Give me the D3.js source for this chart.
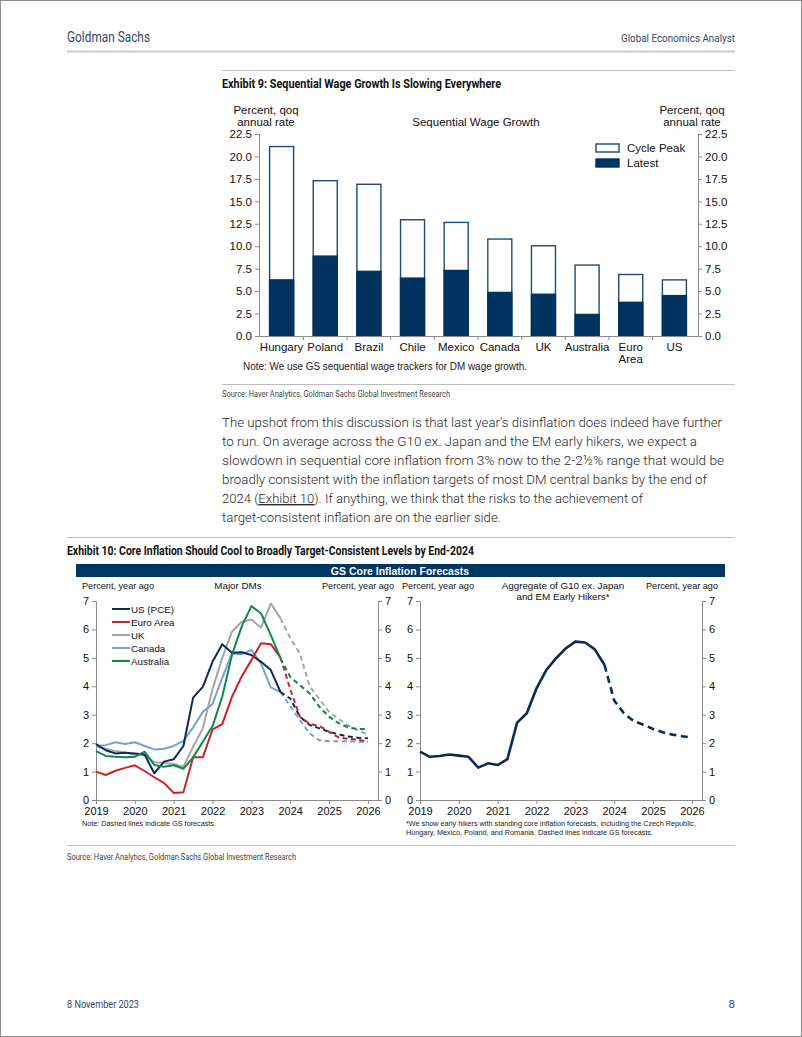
<!DOCTYPE html>
<html><head><meta charset="utf-8">
<script src="https://cdn.jsdelivr.net/npm/d3@7"></script>
<style>
html,body{margin:0;padding:0;background:#fff;}
svg{display:block;}
</style></head>
<body>
<svg id="page" width="802" height="1037"></svg>
<script>
// ---------- Exhibit 9 data ----------
const wageCountries = ["Hungary","Poland","Brazil","Chile","Mexico","Canada","UK","Australia","Euro Area","US"];
const wagePeak   = [21.1, 17.3, 16.9, 12.95, 12.65, 10.8, 10.05, 7.9, 6.85, 6.25];
const wageLatest = [6.25, 8.9, 7.2, 6.45, 7.3, 4.85, 4.65, 2.4, 3.75, 4.5];
const wageTicks  = [0, 2.5, 5, 7.5, 10, 12.5, 15, 17.5, 20, 22.5];

// ---------- Exhibit 10 data ----------
const actualPeriods = ["2019Q1","2019Q2","2019Q3","2019Q4","2020Q1","2020Q2","2020Q3","2020Q4","2021Q1","2021Q2","2021Q3","2021Q4","2022Q1","2022Q2","2022Q3","2022Q4","2023Q1","2023Q2","2023Q3","2023Q4"];
const forecastPeriods = ["2023Q4","2024Q1","2024Q2","2024Q3","2024Q4","2025Q1","2025Q2","2025Q3","2025Q4","2026Q1"];
const usActual   = [1.97,1.75,1.64,1.66,1.64,1.6,0.94,1.35,1.43,1.9,3.6,3.98,4.86,5.48,5.18,5.2,5.1,4.86,4.57,3.8];
const usFcst     = [3.8,3.57,2.93,2.64,2.52,2.4,2.31,2.23,2.19,2.17];
const euroActual = [1.0,0.88,1.03,1.13,1.22,1.02,0.8,0.6,0.25,0.27,1.5,1.5,2.48,2.67,3.63,4.34,4.92,5.51,5.48,5.01];
const euroFcst   = [5.01,3.9,2.93,2.68,2.6,2.4,2.2,2.15,2.12,2.05];
const ukActual   = [1.87,1.8,1.72,1.67,1.6,1.58,1.33,1.3,1.27,1.17,1.87,2.52,3.9,5.0,5.92,6.27,6.35,6.06,6.91,6.39];
const ukFcst     = [6.39,5.7,5.15,4.0,3.55,3.1,2.85,2.62,2.45,2.3];
const canActual  = [1.9,1.93,2.03,1.97,2.03,1.9,1.78,1.8,1.9,2.08,2.55,3.1,3.38,4.3,5.15,5.13,5.27,4.8,3.96,3.8];
const canFcst    = [3.8,3.3,2.81,2.34,2.1,2.07,2.07,2.07,2.05,2.05];
const ausActual  = [1.72,1.55,1.52,1.5,1.52,1.7,1.23,1.17,1.22,1.1,1.5,2.05,2.6,3.63,5.1,6.1,6.82,6.56,5.8,4.98];
const ausFcst    = [4.98,4.33,4.04,3.75,3.28,2.93,2.7,2.55,2.5,2.5];
const aggActual  = [1.7,1.52,1.55,1.6,1.56,1.52,1.14,1.29,1.23,1.44,2.72,3.05,3.93,4.57,4.98,5.33,5.57,5.54,5.3,4.75];
const aggFcst    = [4.75,3.5,3.05,2.78,2.65,2.5,2.38,2.3,2.24,2.2];
const seriesNames = ["US (PCE)","Euro Area","UK","Canada","Australia"];
const seriesColors = ["#0b2b57","#c8232f","#a5a5a5","#7a9fd2","#12874a"];
const yearTicks = [2019,2020,2021,2022,2023,2024,2025,2026];
const inflTicks = [0,1,2,3,4,5,6,7];

const paragraph = [
 "The upshot from this discussion is that last year\u2019s disinflation does indeed have further",
 "to run.  On average across the G10 ex. Japan and the EM early hikers, we expect a",
 "slowdown in sequential core inflation from 3% now to the 2-2\u00bd% range that would be",
 "broadly consistent with the inflation targets of most DM central banks by the end of",
 "2024 (Exhibit 10).  If anything, we think that the risks to the achievement of",
 "target-consistent inflation are on the earlier side."
];

// ---------- helpers ----------
const svg = d3.select("#page");
const SANS = "'Liberation Sans', Arial, sans-serif";
const COND = "'Liberation Sans Narrow', 'Roboto', sans-serif";
function txt(g, x, y, s, o = {}) {
  const t = g.append("text").attr("x", x).attr("y", y).text(s)
    .attr("font-family", o.family || SANS)
    .attr("font-size", o.size || 11)
    .attr("font-weight", o.weight || "normal")
    .attr("fill", o.fill || "#111")
    .attr("text-anchor", o.anchor || "start");
  if (o.width) t.attr("textLength", o.width).attr("lengthAdjust", "spacingAndGlyphs");
  return t;
}
function hline(x1, x2, y, col, w) {
  svg.append("line").attr("x1", x1).attr("x2", x2).attr("y1", y).attr("y2", y)
    .attr("stroke", col).attr("stroke-width", w);
}
function parseQ(p) { return +p.slice(0, 4) + (+p.slice(5) - 1) / 4; }

// page frame
svg.append("rect").attr("x", 0.5).attr("y", 0.5).attr("width", 801).attr("height", 1036)
  .attr("fill", "none").attr("stroke", "#8c8c8c");

// ---------- header / footer ----------
txt(svg, 67, 42, "Goldman Sachs", {family: COND, size: 14, fill: "#34476a", width: 83});
txt(svg, 735, 42, "Global Economics Analyst", {family: COND, size: 11.5, fill: "#34476a", anchor: "end", width: 114});
hline(67, 735, 51.5, "#c9c9c9", 2);
txt(svg, 67, 1008, "8 November 2023", {family: COND, size: 11.5, fill: "#34476a", width: 72});
txt(svg, 735, 1008, "8", {family: COND, size: 11.5, fill: "#34476a", anchor: "end"});

// ---------- Exhibit 9 ----------
hline(222, 735, 70.5, "#bdbdbd", 1);
txt(svg, 222, 88, "Exhibit 9: Sequential Wage Growth Is Slowing Everywhere", {family: COND, size: 12, weight: "bold", width: 279});

const g9 = svg.append("g");
const y9 = d3.scaleLinear().domain([0, 22.5]).range([336, 134]);
const x9 = d3.scaleBand().domain(wageCountries).range([260, 696]).paddingInner(0.45).paddingOuter(0.22);
const axCol = "#8a8a8a";

g9.append("g").attr("transform", "translate(259,0)")
  .call(d3.axisLeft(y9).tickValues(wageTicks).tickFormat(d3.format(".1f")).tickSize(4).tickPadding(3))
  .call(a => { a.select(".domain").attr("stroke", axCol); a.selectAll(".tick line").attr("stroke", axCol);
    a.selectAll("text").attr("font-family", SANS).attr("font-size", 11.5).attr("fill", "#111"); });
g9.append("g").attr("transform", "translate(698,0)")
  .call(d3.axisRight(y9).tickValues(wageTicks).tickFormat(d3.format(".1f")).tickSize(4).tickPadding(3))
  .call(a => { a.select(".domain").attr("stroke", axCol); a.selectAll(".tick line").attr("stroke", axCol);
    a.selectAll("text").attr("font-family", SANS).attr("font-size", 11.5).attr("fill", "#111"); });
hline(259, 698, 336.5, axCol, 1);
const step9 = x9.step();
wageCountries.slice(1).forEach(c => {
  const xs = x9(c) - step9 * x9.paddingInner() / 2;
  g9.append("line").attr("x1", xs).attr("x2", xs).attr("y1", 336).attr("y2", 340).attr("stroke", axCol);
});
g9.selectAll("rect.peak").data(wageCountries).join("rect").attr("class", "peak")
  .attr("x", d => x9(d)).attr("width", x9.bandwidth())
  .attr("y", (d, i) => y9(wagePeak[i])).attr("height", (d, i) => y9(0) - y9(wagePeak[i]))
  .attr("fill", "#fff").attr("stroke", "#1d4a78").attr("stroke-width", 1.4);
g9.selectAll("rect.latest").data(wageCountries).join("rect").attr("class", "latest")
  .attr("x", d => x9(d)).attr("width", x9.bandwidth())
  .attr("y", (d, i) => y9(wageLatest[i])).attr("height", (d, i) => y9(0) - y9(wageLatest[i]))
  .attr("fill", "#00335f").attr("stroke", "#00335f").attr("stroke-width", 1.4);
wageCountries.forEach(c => {
  const cx = x9(c) + x9.bandwidth() / 2;
  const parts = c === "Euro Area" ? ["Euro", "Area"] : [c];
  parts.forEach((p, k) => txt(g9, cx, 351 + k * 12, p, {size: 11.5, anchor: "middle"}));
});
txt(g9, 266, 114, "Percent, qoq", {size: 11.5, anchor: "middle"});
txt(g9, 266, 126, "annual rate", {size: 11.5, anchor: "middle"});
txt(g9, 692, 114, "Percent, qoq", {size: 11.5, anchor: "middle"});
txt(g9, 692, 126, "annual rate", {size: 11.5, anchor: "middle"});
txt(g9, 476, 126, "Sequential Wage Growth", {size: 11.5, anchor: "middle"});
g9.append("rect").attr("x", 596).attr("y", 144).attr("width", 23).attr("height", 8)
  .attr("fill", "#fff").attr("stroke", "#1d4a78").attr("stroke-width", 1.4);
g9.append("rect").attr("x", 596).attr("y", 159).attr("width", 23).attr("height", 8)
  .attr("fill", "#00335f").attr("stroke", "#00335f").attr("stroke-width", 1.4);
txt(g9, 627, 152, "Cycle Peak", {size: 11.5});
txt(g9, 627, 167, "Latest", {size: 11.5});
txt(g9, 243, 370, "Note: We use GS sequential wage trackers for DM wage growth.", {size: 10, fill: "#222", width: 284});
hline(222, 735, 384.5, "#bdbdbd", 1);
txt(svg, 222, 397, "Source: Haver Analytics, Goldman Sachs Global Investment Research", {family: COND, size: 9, fill: "#444", width: 228});

// ---------- paragraph ----------
const paraW = [500, 475, 502, 485, 421, 279];
paragraph.forEach((line, i) => {
  const t = txt(svg, 222, 427 + i * 19, "", {family: "Roboto, 'Liberation Sans', sans-serif", size: 13.6, weight: 300, fill: "#2a2a2a", width: paraW[i]});
  if (i === 4) {
    t.append("tspan").text("2024 (");
    t.append("tspan").text("Exhibit 10").attr("text-decoration", "underline");
    t.append("tspan").text(").  If anything, we think that the risks to the achievement of");
  } else t.text(line);
});

// ---------- Exhibit 10 ----------
hline(67, 735, 537.5, "#bdbdbd", 1);
txt(svg, 67, 555, "Exhibit 10: Core Inflation Should Cool to Broadly Target-Consistent Levels by End-2024", {family: COND, size: 12, weight: "bold", width: 407});
svg.append("rect").attr("x", 76).attr("y", 564).attr("width", 649).attr("height", 13).attr("fill", "#00365f");
txt(svg, 400, 574.5, "GS Core Inflation Forecasts", {size: 10.5, weight: "bold", fill: "#fff", anchor: "middle"});

function panel(x0, x1) {
  const g = svg.append("g");
  const x = d3.scaleLinear().domain([2019, 2026.26]).range([x0, x1]);
  const y = d3.scaleLinear().domain([0, 7]).range([800, 601]);
  const style = a => { a.select(".domain").attr("stroke", axCol); a.selectAll(".tick line").attr("stroke", axCol);
    a.selectAll("text").attr("font-family", SANS).attr("font-size", 11).attr("fill", "#111"); };
  g.append("g").attr("transform", `translate(${x0},0)`)
    .call(d3.axisLeft(y).tickValues(inflTicks).tickFormat(d3.format("d")).tickSize(4).tickPadding(3)).call(style);
  g.append("g").attr("transform", `translate(${x1},0)`)
    .call(d3.axisRight(y).tickValues(inflTicks).tickFormat(d3.format("d")).tickSize(4).tickPadding(3)).call(style);
  g.append("g").attr("transform", "translate(0,800)")
    .call(d3.axisBottom(x).tickValues(yearTicks).tickFormat(d3.format("d")).tickSize(4).tickPadding(3).tickSizeOuter(0)).call(style);
  return {g, x, y};
}
function drawSeries(p, actual, fcst, color, w, dash) {
  const line = d3.line().x(d => p.x(d[0])).y(d => p.y(d[1]));
  p.g.append("path").datum(actualPeriods.map((q, i) => [parseQ(q), actual[i]]))
    .attr("d", line).attr("fill", "none").attr("stroke", color).attr("stroke-width", w).attr("stroke-linejoin", "round");
  p.g.append("path").datum(forecastPeriods.map((q, i) => [parseQ(q), fcst[i]]))
    .attr("d", line).attr("fill", "none").attr("stroke", color).attr("stroke-width", w).attr("stroke-dasharray", dash);
}

const pL = panel(96, 378);
const actuals = [usActual, euroActual, ukActual, canActual, ausActual];
const fcsts = [usFcst, euroFcst, ukFcst, canFcst, ausFcst];
[2, 3, 0, 1, 4].forEach(i => drawSeries(pL, actuals[i], fcsts[i], seriesColors[i], 2, "5,3.5"));
seriesNames.forEach((n, i) => {
  const yy = 609 + i * 13;
  pL.g.append("line").attr("x1", 112).attr("x2", 130).attr("y1", yy).attr("y2", yy)
    .attr("stroke", seriesColors[i]).attr("stroke-width", 2);
  txt(pL.g, 131, yy + 3.5, n, {size: 9.8});
});
txt(svg, 82, 589, "Percent, year ago", {size: 9.8, width: 72});
txt(svg, 238, 589, "Major DMs", {size: 9.8, anchor: "middle"});
txt(svg, 394, 589, "Percent, year ago", {size: 9.8, anchor: "end", width: 72});
txt(svg, 82, 826, "Note: Dashed lines indicate GS forecasts.", {size: 8, fill: "#222", width: 134});

const pR = panel(420, 702);
drawSeries(pR, aggActual, aggFcst, "#0b2b57", 2.6, "7,4.5");
txt(svg, 402, 589, "Percent, year ago", {size: 9.8, width: 72});
txt(svg, 563, 589, "Aggregate of G10 ex. Japan", {size: 9.8, anchor: "middle"});
txt(svg, 563, 600, "and EM Early Hikers*", {size: 9.8, anchor: "middle"});
txt(svg, 718, 589, "Percent, year ago", {size: 9.8, anchor: "end", width: 72});
txt(svg, 406, 826, "*We show early hikers with standing core inflation forecasts, including the Czech Republic,", {size: 8, fill: "#222", width: 290});
txt(svg, 406, 835, "Hungary, Mexico, Poland, and Romania. Dashed lines indicate GS forecasts.", {size: 8, fill: "#222", width: 247});

hline(67, 735, 845.5, "#bdbdbd", 1);
txt(svg, 67, 860, "Source: Haver Analytics, Goldman Sachs Global Investment Research", {family: COND, size: 9, fill: "#444", width: 229});
</script>
</body></html>
